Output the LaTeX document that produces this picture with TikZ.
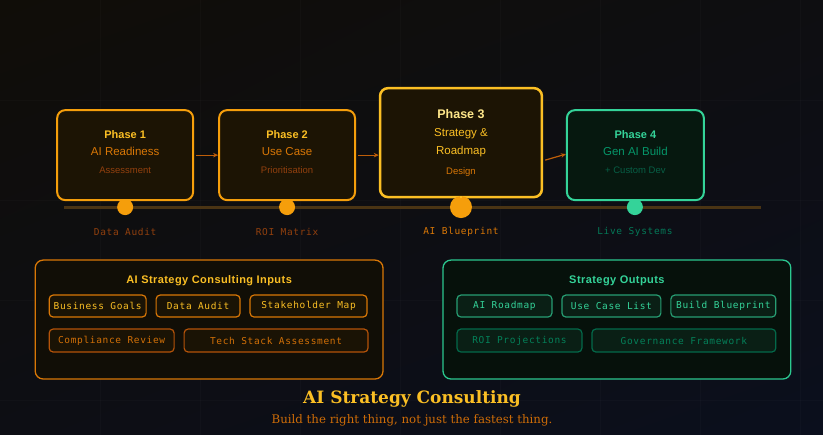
\documentclass[tikz,border=0pt]{standalone}
\usepackage{fontspec}
\setmainfont{DejaVu Serif}
\setsansfont{Liberation Sans}
\setmonofont{DejaVu Sans Mono}
\usetikzlibrary{arrows.meta, positioning, calc, shadings}
\definecolor{bgtl}{HTML}{100D08}
\definecolor{bgtr}{HTML}{0E0E11}
\definecolor{bgbl}{HTML}{0D0E14}
\definecolor{bgbr}{HTML}{0B0F1D}
\definecolor{amberA}{HTML}{F59E0B}
\definecolor{amberB}{HTML}{FBBF24}
\definecolor{amberC}{HTML}{D97706}
\definecolor{amberD}{HTML}{92400E}
\definecolor{amberE}{HTML}{FDE68A}
\definecolor{amberF}{HTML}{B45309}
\definecolor{boxfill}{HTML}{1C1404}
\definecolor{panelfill}{HTML}{110E06}
\definecolor{chipfill}{HTML}{1A1305}
\definecolor{greenA}{HTML}{34D399}
\definecolor{greenB}{HTML}{059669}
\definecolor{greenC}{HTML}{065F46}
\definecolor{greenD}{HTML}{047857}
\definecolor{greenfill}{HTML}{06180F}
\definecolor{gpanelfill}{HTML}{06110B}
\definecolor{gchipfill}{HTML}{0A1F15}
\definecolor{tline}{HTML}{4A3414}

\begin{document}
\begin{tikzpicture}[
    x=1pt, y=-1pt,
    phase/.style={draw=amberA, line width=2pt, rounded corners=8pt, fill=boxfill},
    ptitle/.style={font=\sffamily\bfseries\fontsize{11}{13}\selectfont, text=amberB},
    pmain/.style={font=\sffamily\fontsize{11.5}{13}\selectfont, text=amberC},
    psub/.style={font=\sffamily\fontsize{9.5}{11}\selectfont, text=amberD},
    dot/.style={circle, fill=amberA, minimum size=16pt, inner sep=0pt},
    tick/.style={line width=2pt, draw=amberA},
    tlabel/.style={font=\ttfamily\fontsize{9.5}{11}\selectfont\addfontfeature{LetterSpace=7}, text=amberD},
    arr/.style={-{Stealth[length=5pt, width=4.5pt]}, line width=1.2pt, draw=amberF!85!amberA},
    panel/.style={draw=amberC, line width=1.3pt, rounded corners=8pt, fill=panelfill},
    ptitle2/.style={font=\sffamily\bfseries\fontsize{11}{13}\selectfont\addfontfeature{LetterSpace=4}, text=amberB},
    chip/.style={draw=amberC, line width=1.2pt, rounded corners=4pt, fill=chipfill, minimum height=22pt, inner sep=0pt, outer sep=0pt,
        font=\ttfamily\fontsize{9.5}{11}\selectfont\addfontfeature{LetterSpace=7}, text=amberB},
    node distance=10pt
]
% background
\shade[upper left=bgtl, upper right=bgtr, lower left=bgbl, lower right=bgbr] (0,0) rectangle (823,435);
\foreach \gx in {100,200,...,800} \draw[white, opacity=0.02] (\gx,0) -- (\gx,435);
\foreach \gy in {100,200,300,400} \draw[white, opacity=0.02] (0,\gy) -- (823,\gy);
\useasboundingbox (0,0) rectangle (823,435);

% timeline
\coordinate (tlL) at (64,207);
\coordinate (tlR) at (761,207);
\draw[tline, line width=3pt] (tlL) -- (tlR);

% phases
\node[phase, minimum width=136pt, minimum height=90pt] (p1) at (125,155) {};
\node[phase, minimum width=136pt, minimum height=90pt] (p2) at (287,155) {};
\node[phase, draw=amberB, line width=2.5pt, minimum width=162pt, minimum height=109pt] (p3) at (461,142.5) {};
\node[phase, draw=greenA, fill=greenfill, minimum width=137pt, minimum height=90pt] (p4) at (635.5,155) {};

\node[ptitle] (p1t) at (125,134) {Phase 1};
\node[pmain] (p1m) at (125,151) {AI Readiness};
\node[psub] (p1s) at (125,170) {Assessment};
\node[ptitle] (p2t) at (287,134) {Phase 2};
\node[pmain] (p2m) at (287,151) {Use Case};
\node[psub] (p2s) at (287,170) {Prioritisation};
\node[ptitle, text=amberE, font=\sffamily\bfseries\fontsize{12.5}{14}\selectfont] (p3t) at (461,114) {Phase 3};
\node[pmain, text=amberB] (p3m) at (461,134) {Strategy \&};
\node[pmain, text=amberB] (p3n) at (461,151) {Roadmap};
\node[psub, text=amberC] (p3s) at (461,172) {Design};
\node[ptitle, text=greenA] (p4t) at (635.5,134) {Phase 4};
\node[pmain, text=greenB] (p4m) at (635.5,151) {Gen AI Build};
\node[psub, text=greenC] (p4s) at (635.5,170) {+ Custom Dev};

\draw[arr] (p1.east) ++(2,0) -- (p2.west);
\draw[arr] (p2.east) ++(2,0) -- (p3.west |- p2.west);
\draw[arr] ($(p3.east)+(2,17.5)$) -- ($(p4.west)+(0,-1)$);

% dots on the timeline
\node[dot] (d1) at (125,207) {};
\node[dot] (d2) at (287,207) {};
\node[dot, minimum size=22pt] (d3) at (461,207) {};
\node[dot, fill=greenA] (d4) at (635,207) {};
\draw[tick] (p1.south) -- (d1);
\draw[tick] (p2.south) -- (d2);
\draw[tick, draw=amberB] (p3.south) -- (d3);
\draw[tick, draw=greenA] (d4 |- p4.south) -- (d4);

\node[tlabel] (l1) at (125,232) {Data Audit};
\node[tlabel] (l2) at (287,232) {ROI Matrix};
\node[tlabel, text=amberC] (l3) at (461,232) {AI Blueprint};
\node[tlabel, text=greenD] (l4) at (635,232) {Live Systems};

% inputs panel
\node[panel, minimum width=348pt, minimum height=119pt] (inp) at (209,319.5) {};
\node[ptitle2] (inpt) at (209,281) {AI Strategy Consulting Inputs};
\node[chip, minimum width=97pt, anchor=west] (c1) at (49,306) {Business Goals};
\node[chip, minimum width=84pt, right=of c1] (c2) {Data Audit};
\node[chip, minimum width=117pt, right=of c2] (c3) {Stakeholder Map};
\node[chip, minimum width=125pt, minimum height=23pt, anchor=west, draw=amberF, text=amberC!80!amberF] (c4) at (49,340.5) {Compliance Review};
\node[chip, minimum width=184pt, minimum height=23pt, right=of c4, draw=amberF, text=amberC!80!amberF] (c5) {Tech Stack Assessment};

% outputs panel
\node[panel, draw=greenA!80!greenB, fill=gpanelfill, minimum width=348pt, minimum height=119pt] (out) at (617,319.5) {};
\node[ptitle2, text=greenA] (outt) at (617,281) {Strategy Outputs};
\node[chip, minimum width=95pt, anchor=west, draw=greenA!75!black, fill=gchipfill, text=greenA] (o1) at (457,306) {AI Roadmap};
\node[chip, minimum width=99pt, right=of o1, draw=greenA!75!black, fill=gchipfill, text=greenA] (o2) {Use Case List};
\node[chip, minimum width=105pt, right=of o2, draw=greenA!75!black, fill=gchipfill, text=greenA] (o3) {Build Blueprint};
\node[chip, minimum width=125pt, minimum height=23pt, anchor=west, draw=greenB!70!black, fill=gchipfill, text=greenB!85!black] (o4) at (457,340.5) {ROI Projections};
\node[chip, minimum width=184pt, minimum height=23pt, right=of o4, draw=greenB!70!black, fill=gchipfill, text=greenB!85!black] (o5) {Governance Framework};

% title
\node[font=\rmfamily\bfseries\fontsize{17}{20}\selectfont, text=amberB] (title) at (412,399) {AI Strategy Consulting};
\node[font=\rmfamily\fontsize{11.8}{14}\selectfont, text=amberC!70!amberF] (sub) at (412,420) {Build the right thing, not just the fastest thing.};
\end{tikzpicture}
\end{document}
